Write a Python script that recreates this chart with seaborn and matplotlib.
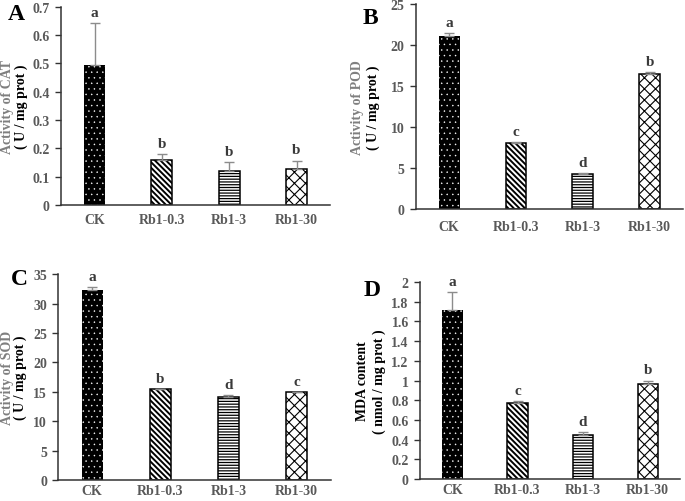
import numpy as np
import pandas as pd
import matplotlib
matplotlib.use("Agg")
import matplotlib.pyplot as plt
import seaborn as sns
from matplotlib.ticker import FuncFormatter

sns.set_style("white")
plt.rcParams["font.family"] = ["Liberation Serif", "DejaVu Serif"]
plt.rcParams["font.weight"] = "bold"
plt.rcParams["hatch.linewidth"] = 1.0

categories = ["CK", "Rb1-0.3", "Rb1-3", "Rb1-30"]

cat_vals = [0.495, 0.158, 0.120, 0.128]
cat_err = [0.148, 0.022, 0.032, 0.029]
cat_sig = ["a", "b", "b", "b"]

pod_vals = [21.1, 8.0, 4.3, 16.4]
pod_err = [0.4, 0.1, 0.05, 0.25]
pod_sig = ["a", "c", "d", "b"]

sod_vals = [32.3, 15.4, 14.1, 14.9]
sod_err = [0.5, 0.12, 0.4, 0.08]
sod_sig = ["a", "b", "d", "c"]

mda_vals = [1.72, 0.77, 0.45, 0.96]
mda_err = [0.18, 0.02, 0.03, 0.04]
mda_sig = ["a", "c", "d", "b"]

hatches = ["...", "\\\\\\\\\\\\", "------", "xxx"]
hatch_lw = [0.3, 1.4, 0.9, 0.8]

fig = plt.figure(figsize=(6.85, 5.02), dpi=100)

panels = [
    dict(rect=[0.089, 0.5896, 0.393, 0.395], vals=cat_vals, err=cat_err, sig=cat_sig,
         ylim=0.7, step=0.1, l1="Activity of CAT", l2="( U / mg prot )",
         c1="#7f7f7f", letter="A", lpos=(16, 15), off=(-53, -40), pad=6),
    dict(rect=[0.607, 0.582, 0.390, 0.408], vals=pod_vals, err=pod_err, sig=pod_sig,
         ylim=25, step=5, l1="Activity of POD", l2="( U / mg prot )",
         c1="#7f7f7f", letter="B", lpos=(370, 18), off=(-58, -43), pad=8),
    dict(rect=[0.0847, 0.0418, 0.398, 0.410], vals=sod_vals, err=sod_err, sig=sod_sig,
         ylim=35, step=5, l1="Activity of SOD", l2="( U / mg prot )",
         c1="#7f7f7f", letter="C", lpos=(19, 280), off=(-51, -38), pad=3),
    dict(rect=[0.613, 0.044, 0.380, 0.392], vals=mda_vals, err=mda_err, sig=mda_sig,
         ylim=2.0, step=0.2, l1="MDA content", l2="( nmol / mg prot )",
         c1="#000000", letter="D", lpos=(372, 290), off=(-57, -41), pad=3),
]

tick_gray = "#595959"


def fmt(v, pos):
    if abs(v) < 1e-9:
        return "0"
    return ("%.1f" % v).rstrip("0").rstrip(".")


for p in panels:
    ax = fig.add_axes(p["rect"])
    df = pd.DataFrame({"cat": categories, "val": p["vals"]})
    sns.barplot(data=df, x="cat", y="val", ax=ax, color="white", width=0.31,
                edgecolor="black", linewidth=1.1, errorbar=None, order=categories)
    bars = list(ax.patches)
    for i, b in enumerate(bars):
        b.set_hatch(hatches[i])
        if hasattr(b, "set_hatch_linewidth"):
            b.set_hatch_linewidth(hatch_lw[i])
        if i == 0:
            b.set_facecolor("black")
            b.set_edgecolor("white")
            b.set_linewidth(0)
    xs = [b.get_x() + b.get_width() / 2 for b in bars]
    ax.errorbar(xs, p["vals"], yerr=[np.zeros(4), p["err"]], fmt="none",
                ecolor="#8c8c8c", elinewidth=1.0, capsize=3.5, capthick=1.0, zorder=1)
    for x, v, e, s in zip(xs, p["vals"], p["err"], p["sig"]):
        ax.annotate(s, xy=(x, v + e), xytext=(0, 3), textcoords="offset points",
                    ha="center", va="bottom", fontsize=11, fontweight="bold", color="#3a3a3a")
    ax.set_xlim(-0.5, 3.5)
    ax.set_ylim(0, p["ylim"])
    ax.set_yticks(np.arange(0, p["ylim"] + p["step"] / 2, p["step"]))
    ax.yaxis.set_major_formatter(FuncFormatter(fmt))
    ax.set_xticks(range(4))
    ax.set_xticklabels(categories)
    ax.set_xticks(np.arange(-0.5, 4.0, 1.0), minor=True)
    ax.tick_params(axis="x", which="major", length=0, pad=p["pad"], labelsize=10, labelcolor=tick_gray)
    ax.tick_params(axis="x", which="minor", length=4, width=1.0, direction="out", color="#333333")
    ax.tick_params(axis="y", which="major", length=4, width=1.0, direction="out", pad=4,
                   labelsize=10, labelcolor=tick_gray, color="#333333", left=True)
    for lab in ax.get_xticklabels() + ax.get_yticklabels():
        lab.set_fontweight("bold")
    ax.set_xlabel("")
    ax.set_ylabel("")
    for sp in ["top", "right"]:
        ax.spines[sp].set_visible(False)
    for sp in ["left", "bottom"]:
        ax.spines[sp].set_color("#333333")
        ax.spines[sp].set_linewidth(1.1)
    ax.annotate(p["l1"], xy=(0, 0.5), xycoords="axes fraction", xytext=(p["off"][0] * 0.72, 0),
                textcoords="offset points", rotation=90, ha="center", va="center",
                fontsize=10, fontweight="bold", color=p["c1"])
    ax.annotate(p["l2"], xy=(0, 0.5), xycoords="axes fraction", xytext=(p["off"][1] * 0.72, 0),
                textcoords="offset points", rotation=90, ha="center", va="center",
                fontsize=10, fontweight="bold", color="black")
    fig.text(p["lpos"][0] / 685, 1 - p["lpos"][1] / 502, p["letter"], ha="center", va="center",
             fontsize=17, fontweight="bold", color="black")

fig.savefig("out.png", dpi=100)
